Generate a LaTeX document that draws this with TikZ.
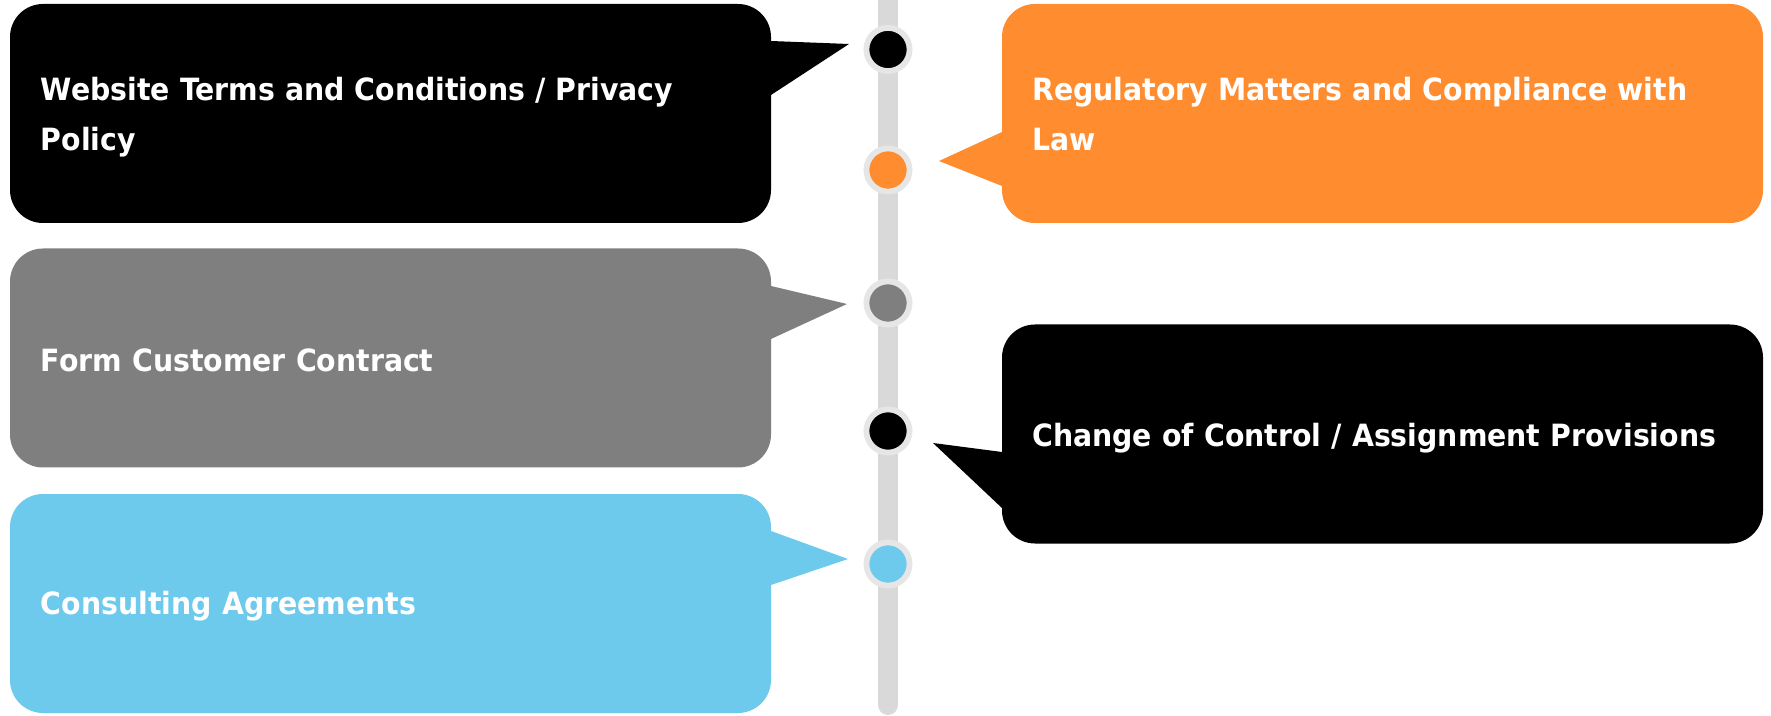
\documentclass[tikz,border=0pt]{standalone}
\usepackage{fontspec}
\setmainfont{DejaVu Sans Condensed}[FakeStretch=1.027]
\definecolor{orng}{RGB}{255,140,46}
\definecolor{gry}{RGB}{127,127,128}
\definecolor{skyb}{RGB}{109,202,236}
\definecolor{bar}{RGB}{217,217,217}
\definecolor{ring}{RGB}{230,230,230}
\begin{document}
\begin{tikzpicture}[x=0.75pt,y=-0.75pt,
    box/.style={rounded corners=24.75pt, minimum width=570.75pt, minimum height=164.25pt, inner sep=0pt},
    lbl/.style={text=white, font=\bfseries\fontsize{23pt}{37.5pt}\selectfont, text width=560pt, align=left, anchor=base west, inner sep=0pt}]
  \useasboundingbox (0,0) rectangle (1771,716);

  % timeline with its dots
  \draw[bar, line width=15pt, line cap=round] (888,-20) -- (888,705);
  \foreach \y/\c in {49.5/black, 170/orng, 303/gry, 431/black, 564/skyb}
    \filldraw[fill=\c, draw=ring, line width=4.35pt] (888,\y) circle (21.6);

  % boxes
  \node[box, fill=black] (web) at (390.5,113.5) {};
  \node[box, fill=orng] (reg) at (1382.5,113.5) {};
  \node[box, fill=gry] (form) at (390.5,358) {};
  \node[box, fill=black] (change) at (1382.5,434) {};
  \node[box, fill=skyb] (cons) at (390.5,603.5) {};

  % pointers
  \fill[black] (771,41) -- (849,44) -- (771,95) -- cycle;
  \fill[orng] (1002,132) -- (939,161) -- (1002,186) -- cycle;
  \fill[gry] (771,286) -- (847,304) -- (771,339) -- cycle;
  \fill[black] (1002,452) -- (933,443) -- (1002,508) -- cycle;
  \fill[skyb] (771,531) -- (848,559) -- (771,585) -- cycle;

  % labels
  \node[lbl] (webtext) at (40.7,100.7) {Website Terms and Conditions / Privacy\\Policy};
  \node[lbl] (regtext) at (1032,101) {Regulatory Matters and Compliance with\\Law};
  \node[lbl] (formtext) at (40.7,371.7) {Form Customer Contract};
  \node[lbl] (changetext) at (1032,446.7) {Change of Control / Assignment Provisions};
  \node[lbl] (constext) at (40.7,614.5) {Consulting Agreements};
\end{tikzpicture}
\end{document}
